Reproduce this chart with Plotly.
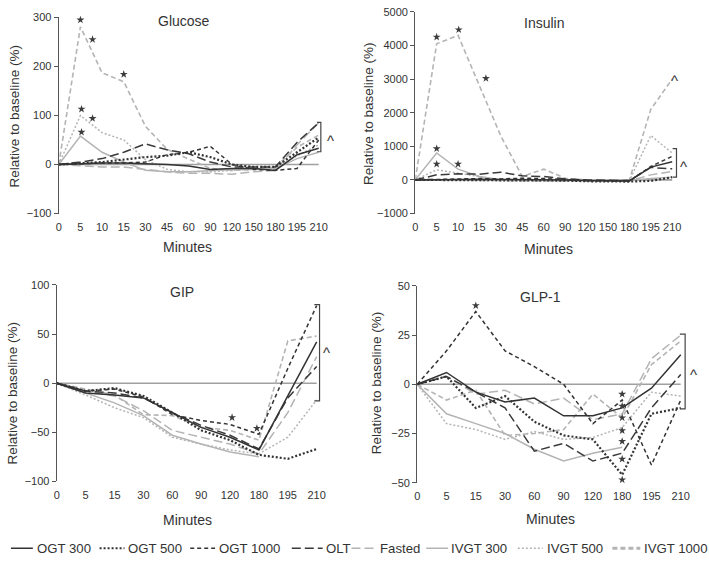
import plotly.graph_objects as go

# ---------------- data ----------------
series_names = ["OGT 300", "OGT 500", "OGT 1000", "OLT", "Fasted", "IVGT 300", "IVGT 500", "IVGT 1000"]

times_long = ["0", "5", "10", "15", "30", "45", "60", "90", "120", "150", "180", "195", "210"]
times_short = ["0", "5", "15", "30", "60", "90", "120", "180", "195", "210"]

glucose_ogt300 = [0, 2, 3, 3, 2, 0, -3, -10, -8, -8, -12, 20, 33]
glucose_ogt500 = [0, 3, 5, 10, 15, 18, 25, 15, 0, -5, -5, 25, 55]
glucose_ogt1000 = [0, 2, 3, 3, 5, 20, 25, 37, 0, -10, -12, -8, 50]
glucose_olt = [0, 5, 12, 25, 42, 30, 22, 5, -5, -5, -5, 45, 85]
glucose_fasted = [0, -3, -5, -5, -10, -15, -18, -18, -20, -15, -12, 40, 85]
glucose_ivgt300 = [0, 58, 25, 5, -12, -15, -15, -12, -10, -8, -8, 12, 25]
glucose_ivgt500 = [0, 100, 65, 50, 10, -10, -15, -15, -12, -10, -8, 18, 40]
glucose_ivgt1000 = [0, 281, 187, 169, 78, 31, 11, -8, -12, -10, -5, 35, 60]

insulin_ogt300 = [0, 10, 20, 20, 10, 10, 10, 0, -20, -30, -30, 380, 540]
insulin_ogt500 = [0, 0, 0, 0, 0, 0, 0, -20, -40, -50, -50, -30, 80]
insulin_ogt1000 = [0, 20, 40, 40, 30, 50, 40, 0, -20, -30, -30, 400, 700]
insulin_olt = [0, 150, 180, 170, 230, 120, 100, 30, 0, -10, -20, 370, 330]
insulin_fasted = [0, 0, -10, -10, -20, -30, -30, -30, -30, -30, -30, 150, 250]
insulin_ivgt300 = [0, 800, 320, 100, 0, -20, -20, -20, -20, -20, -20, 40, 80]
insulin_ivgt500 = [0, 300, 200, 100, 0, -20, -20, -20, -20, -20, -20, 1320, 800]
insulin_ivgt1000 = [0, 4050, 4300, 2800, 1300, 100, 320, 50, 0, 0, 0, 2100, 3000]

gip_ogt300 = [0, -10, -12, -15, -30, -45, -55, -68, -13, 42]
gip_ogt500 = [0, -8, -5, -13, -30, -48, -58, -73, -77, -67]
gip_ogt1000 = [0, -8, -6, -14, -32, -38, -42, -52, 15, 79]
gip_olt = [0, -8, -10, -15, -30, -43, -53, -67, -15, 17]
gip_fasted = [0, -8, -13, -28, -48, -55, -62, -72, -30, 27]
gip_ivgt300 = [0, -10, -20, -33, -53, -62, -70, -75, None, None]
gip_ivgt500 = [0, -12, -25, -35, -55, -62, -68, -72, -55, -17]
gip_ivgt1000 = [0, -6, -12, -32, -33, -45, -48, -58, 43, 48]

glp1_ogt300 = [0, 6, -4, -9, -7, -16, -16, -12, -2, 15]
glp1_ogt500 = [0, 4, -12, -6, -19, -26, -28, -46, -15, -12]
glp1_ogt1000 = [0, 17, 37, 17, 9, 0, -20, -8, -41, -8]
glp1_olt = [0, 4, -4, -12, -34, -30, -39, -35, -12, 5]
glp1_fasted = [0, 4, -5, -3, -10, -7, -18, -15, 13, 25]
glp1_ivgt300 = [0, -15, -20, -25, -33, -39, -35, -32, None, None]
glp1_ivgt500 = [0, -20, -23, -28, -24, -28, -27, -22, -4, -6]
glp1_ivgt1000 = [0, -8, -3, -26, -25, -23, -5, -17, 10, 22]

# significance stars (x given as category position, y value)
glucose_star_x = [1, 1.56, 3, 1.05, 1.56, 1.05]
glucose_star_y = [295, 255, 184, 113, 94, 66]
insulin_star_x = [1, 2.03, 3.3, 1, 1, 2]
insulin_star_y = [4250, 4470, 3020, 930, 470, 470]
gip_star_x = [6.07, 6.93]
gip_star_y = [-35, -46]
glp1_star_x = [2, 7, 7, 7, 7, 7, 7, 7]
glp1_star_y = [40, -5, -11, -17, -23.5, -29, -38, -48.5]

# brackets ( ^ ) : [y_top, y_bottom]
glucose_bracket = [86, 26]
insulin_bracket = [930, 80]
gip_bracket = [80, -18]
glp1_bracket = [25.5, -12.5]

# ---------------- styles ----------------
DARK = "#333333"
LIGHT = "#b4b4b4"
styles = {
    "OGT 300": dict(color=DARK, dash="solid", width=1.5),
    "OGT 500": dict(color=DARK, dash="2px,2px", width=2.2),
    "OGT 1000": dict(color=DARK, dash="4px,3px", width=1.5),
    "OLT": dict(color="#3a3a3a", dash="9px,4px", width=1.5),
    "Fasted": dict(color=LIGHT, dash="9px,4px", width=1.5),
    "IVGT 300": dict(color=LIGHT, dash="solid", width=1.5),
    "IVGT 500": dict(color=LIGHT, dash="2px,2px", width=1.5),
    "IVGT 1000": dict(color=LIGHT, dash="5px,3px", width=1.6),
}

panels = [
    dict(name="Glucose", times=times_long, data=[glucose_ogt300, glucose_ogt500, glucose_ogt1000, glucose_olt,
                                                 glucose_fasted, glucose_ivgt300, glucose_ivgt500, glucose_ivgt1000],
         sx=glucose_star_x, sy=glucose_star_y, br=glucose_bracket,
         xdom=[56, 336.6], ydom=[11.7, 212], yr=[-100, 300], dt=100, xr=12.9,
         bx=12.1, caret=[(12.55, 58)], title=(182, 15), xt=(185, 246), yt=(12, 112)),
    dict(name="Insulin", times=times_long, data=[insulin_ogt300, insulin_ogt500, insulin_ogt1000, insulin_olt,
                                                 insulin_fasted, insulin_ivgt300, insulin_ivgt500, insulin_ivgt1000],
         sx=insulin_star_x, sy=insulin_star_y, br=insulin_bracket,
         xdom=[414, 691.4], ydom=[6, 212], yr=[-1000, 5000], dt=1000, xr=12.9,
         bx=12.2, caret=[(12.55, 510), (12.1, 3070)], title=(543, 17), xt=(548, 248), yt=(367, 110)),
    dict(name="GIP", times=times_short, data=[gip_ogt300, gip_ogt500, gip_ogt1000, gip_olt,
                                             gip_fasted, gip_ivgt300, gip_ivgt500, gip_ivgt1000],
         sx=gip_star_x, sy=gip_star_y, br=gip_bracket,
         xdom=[54, 335.3], ydom=[285, 485.7], yr=[-100, 100], dt=50, xr=9.7,
         bx=9.1, caret=[(9.35, 35)], title=(180, 292), xt=(185, 525), yt=(10, 395)),
    dict(name="GLP-1", times=times_short, data=[glp1_ogt300, glp1_ogt500, glp1_ogt1000, glp1_olt,
                                               glp1_fasted, glp1_ivgt300, glp1_ivgt500, glp1_ivgt1000],
         sx=glp1_star_x, sy=glp1_star_y, br=glp1_bracket,
         xdom=[416, 701.2], ydom=[286, 487], yr=[-50, 50], dt=25, xr=9.7,
         bx=9.15, caret=[(9.45, 7)], title=(540, 297), xt=(550, 524), yt=(375, 385)),
]

W, H = 709, 566
FONT = "Liberation Sans, Arial, Helvetica, sans-serif"
TXT = "#333333"

fig = go.Figure()
shapes = []
annotations = []
layout_axes = {}


def px(x):
    return x / W


def py(y):
    return 1 - y / H


for i, p in enumerate(panels):
    sfx = "" if i == 0 else str(i + 1)
    xa, ya = "x" + sfx, "y" + sfx
    n = len(p["times"])
    idx = list(range(n))

    # baseline (zero) line across the measured time points
    fig.add_trace(go.Scatter(x=[idx[0], idx[-1]], y=[0, 0], mode="lines",
                             line=dict(color="#a0a0a0", width=1.6),
                             xaxis=xa, yaxis=ya, showlegend=False, hoverinfo="skip"))
    # series: draw light ones first, dark on top
    for name, vals in reversed(list(zip(series_names, p["data"]))):
        st = styles[name]
        fig.add_trace(go.Scatter(x=idx, y=vals, mode="lines", name=name,
                                 line=dict(color=st["color"], dash=st["dash"], width=st["width"]),
                                 xaxis=xa, yaxis=ya, showlegend=False, connectgaps=False,
                                 cliponaxis=False))
    fig.add_trace(go.Scatter(x=p["sx"], y=p["sy"], mode="markers",
                             marker=dict(symbol="star", size=6, color="#3c3c3c"),
                             xaxis=xa, yaxis=ya, showlegend=False, cliponaxis=False))

    layout_axes["xaxis" + sfx] = dict(
        domain=[px(p["xdom"][0]), px(p["xdom"][1])], range=[0, p["xr"]], anchor=ya,
        tickmode="array", tickvals=idx, ticktext=p["times"], showline=False, showgrid=False,
        zeroline=False, ticks="outside", ticklen=3, tickcolor="rgba(0,0,0,0)",
        tickfont=dict(size=11, color=TXT, family=FONT), fixedrange=True)
    layout_axes["yaxis" + sfx] = dict(
        domain=[py(p["ydom"][1]), py(p["ydom"][0])], range=p["yr"], anchor=xa,
        dtick=p["dt"], tick0=0, showline=True, linecolor="#555555", linewidth=1.3,
        ticks="outside", ticklen=4, tickcolor="#555555", tickwidth=1.2,
        showgrid=False, zeroline=False,
        tickfont=dict(size=11, color=TXT, family=FONT), fixedrange=True)

    # bracket
    b0 = p["bx"] - 0.18
    shapes.append(dict(type="path", xref=xa, yref=ya,
                       path=f"M {b0},{p['br'][0]} L {p['bx']},{p['br'][0]} L {p['bx']},{p['br'][1]} L {b0},{p['br'][1]}",
                       line=dict(color="#444444", width=1.2)))
    for cx, cy in p["caret"]:
        annotations.append(dict(x=cx, y=cy, xref=xa, yref=ya, text="^", showarrow=False,
                                xanchor="center", yanchor="middle",
                                font=dict(size=15, color=TXT, family=FONT), yshift=-4))

    # titles
    annotations.append(dict(x=px(p["title"][0]), y=py(p["title"][1]), xref="paper", yref="paper",
                            xanchor="center", yanchor="middle",
                            text=p["name"], showarrow=False, font=dict(size=14, color=TXT, family=FONT)))
    annotations.append(dict(x=px(p["xt"][0]), y=py(p["xt"][1]), xref="paper", yref="paper",
                            xanchor="center", yanchor="middle",
                            text="Minutes", showarrow=False, font=dict(size=14, color=TXT, family=FONT)))
    annotations.append(dict(x=px(p["yt"][0]), y=py(p["yt"][1]), xref="paper", yref="paper",
                            xanchor="center", yanchor="middle",
                            text="Relative to baseline (%)", textangle=-90, showarrow=False,
                            font=dict(size=13.5, color=TXT, family=FONT)))

# ---------------- manual legend ----------------
legend_line_x = [(8, 30), (97, 122), (188, 213), (290, 321), (350, 375), (425, 447), (517, 542), (612, 640)]
legend_text_x = [32, 124, 215, 322, 377, 448, 544, 642]
LEG_Y = 554
for name, (l0, l1), tx in zip(series_names, legend_line_x, legend_text_x):
    st = styles[name]
    w = 3 if name == "IVGT 1000" else st["width"]
    shapes.append(dict(type="line", xref="paper", yref="paper", x0=px(l0), x1=px(l1),
                       y0=py(LEG_Y), y1=py(LEG_Y),
                       line=dict(color=st["color"], dash=st["dash"], width=w)))
    annotations.append(dict(x=px(tx), y=py(LEG_Y), xref="paper", yref="paper", text=name,
                            xanchor="left", yanchor="middle", showarrow=False,
                            font=dict(size=13.2, color=TXT, family=FONT)))

fig.update_layout(
    width=W, height=H, margin=dict(l=0, r=0, t=0, b=0),
    paper_bgcolor="white", plot_bgcolor="white",
    showlegend=False, shapes=shapes, annotations=annotations,
    font=dict(family=FONT, color=TXT),
    **layout_axes,
)

fig.write_html(
    "out.html",
    config={"displayModeBar": False},
    post_script="document.body.style.margin='0px';document.body.style.padding='0px';"
                "document.body.style.overflow='hidden';",
)
